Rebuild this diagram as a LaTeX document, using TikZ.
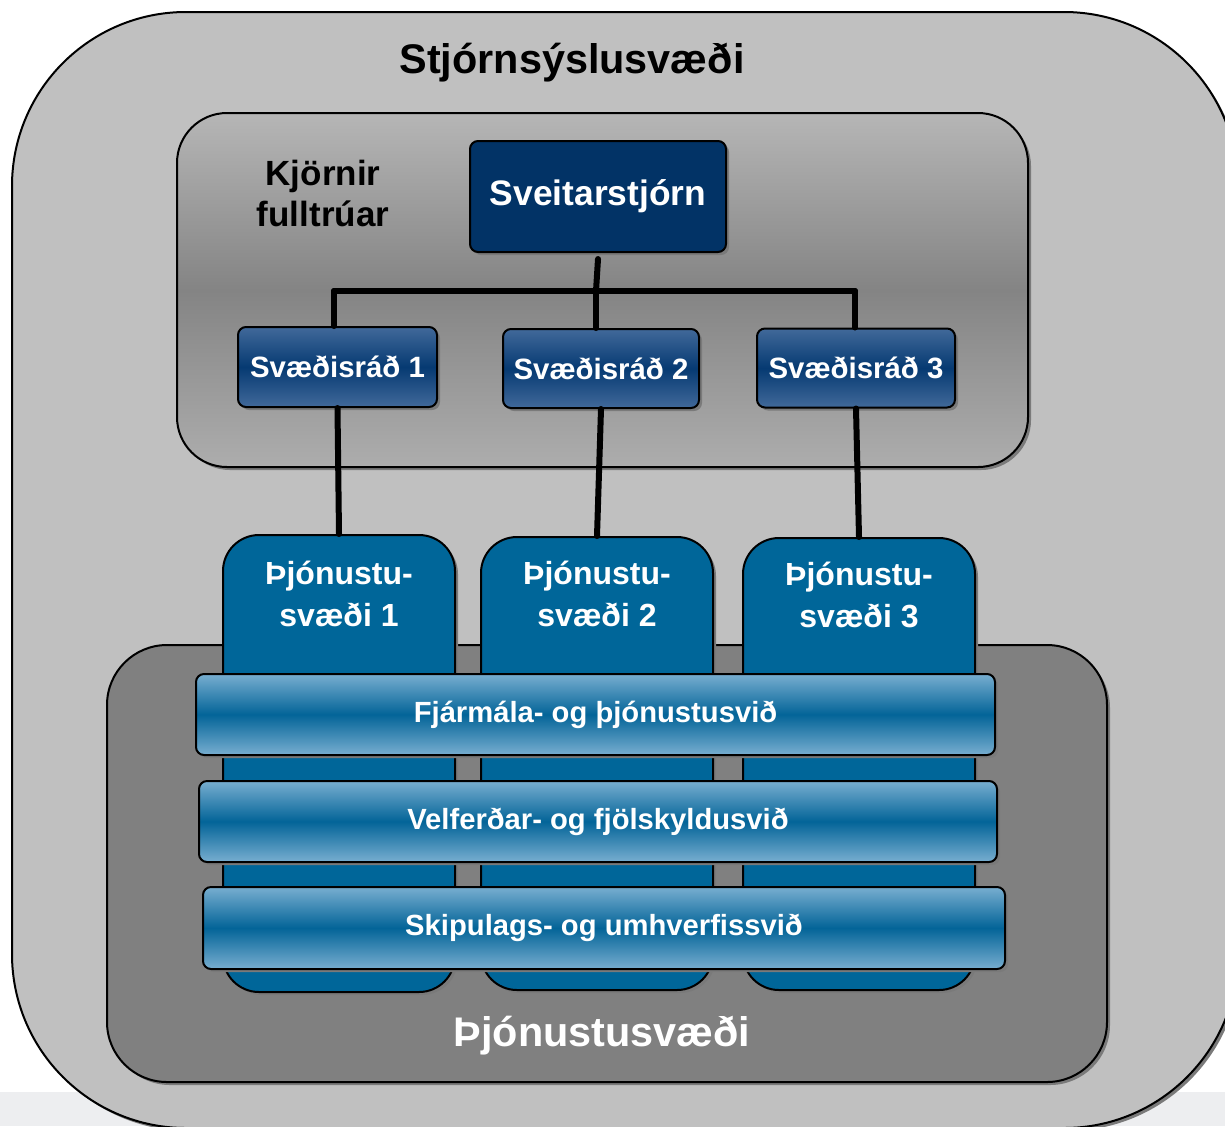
\documentclass[tikz,border=0pt]{standalone}
\usepackage{fontspec}
\setmainfont{Liberation Sans}
\usetikzlibrary{shadows}
\definecolor{outerg}{HTML}{C0C0C0}
\definecolor{bandg}{HTML}{EDEEF0}
\definecolor{shadowg}{HTML}{7A7A7A}
\definecolor{lowg}{HTML}{808080}
\definecolor{upTop}{HTML}{B6B6B6}
\definecolor{upMid}{HTML}{848484}
\definecolor{upBot}{HTML}{ADADAD}
\definecolor{navy}{HTML}{023366}
\definecolor{srEdge}{HTML}{41699A}
\definecolor{srMid}{HTML}{063A72}
\definecolor{colblue}{HTML}{006699}
\definecolor{barEdge}{HTML}{78AED0}
\definecolor{barMid}{HTML}{036498}
\begin{document}
\begin{tikzpicture}[x=0.5pt,y=-0.5pt,
  shad/.style={drop shadow={shadow xshift=1.5pt,shadow yshift=-1.5pt,fill=shadowg,opacity=1}},
  area/.style={draw=black,line width=1pt,shad},
  conn/.style={line width=3pt,line cap=round},
  topbox/.style={area,rounded corners=4pt,fill=navy,text=white,inner sep=0pt,
    font=\fontsize{17.7}{20}\selectfont\bfseries},
  srbox/.style={area,rounded corners=4pt,top color=srEdge,bottom color=srEdge,middle color=srMid,
    text=white,inner sep=0pt,font=\fontsize{14.7}{17}\selectfont\bfseries},
  colbox/.style={area,rounded corners=18pt,fill=colblue,inner sep=0pt,
    minimum width=116pt},
  coltext/.style={text=white,align=center,font=\fontsize{16}{21}\selectfont\bfseries},
  barbox/.style={area,rounded corners=4pt,top color=barEdge,bottom color=barEdge,middle color=barMid,
    text=white,inner sep=0pt,font=\fontsize{14.6}{17}\selectfont\bfseries},
  title/.style={font=\fontsize{20.7}{24}\selectfont\bfseries}
]
\useasboundingbox (0,0) rectangle (1225,1126);
\fill[bandg] (0,1092) rectangle (1225,1126);

% outer area
\draw[area,fill=outerg,rounded corners=87pt] (12,12) rectangle (1238,1128);
\node[title,text=black] (t0) at (572,63) {Stjórnsýslusvæði};

% upper area (elected representatives)
\draw[area,rounded corners=25pt,top color=upTop,bottom color=upBot,middle color=upMid]
  (177,113) rectangle (1028,467);
\node[align=center,font=\fontsize{17.5}{20.5}\selectfont\bfseries] (kf) at (323,193) {Kjörnir\\fulltrúar};

% lower area
\draw[area,rounded corners=30pt,fill=lowg] (107,645) rectangle (1107,1082);
\node[title,text=white] (tl) at (602,1036) {Þjónustusvæði};

% top nodes
\node[topbox,minimum width=128pt,minimum height=55.5pt] (sv) at (598,196.5) {Sveitarstjórn};
\node[srbox,minimum width=99.5pt,minimum height=40pt] (s1) at (337.5,367) {Svæðisráð 1};
\node[srbox,minimum width=98pt,minimum height=39.5pt] (s2) at (601,368.5) {Svæðisráð 2};
\node[srbox,minimum width=99pt,minimum height=39.5pt] (s3) at (856,368) {Svæðisráð 3};

\coordinate (j0) at (596,291);
\coordinate (j1) at (334,291);
\coordinate (j3) at (855,291);
\draw[conn] ([yshift=-3pt]sv.south) -- (j0);
\draw[conn] (j1) -- (j3);
\draw[conn] (j1) -- (j1 |- s1.north);
\draw[conn] (j0) -- (j0 |- s2.north);
\draw[conn] (j3) -- (j3 |- s3.north);

% columns
\node[colbox,minimum height=228.5pt] (p1) at (339,763.5) {};
\node[colbox,minimum height=226.5pt] (p2) at (597,763.5) {};
\node[colbox,minimum height=226pt] (p3) at (859,764) {};
\node[coltext] (pt1) at (339,594) {Þjónustu-\\svæði 1};
\node[coltext] (pt2) at (597,594) {Þjónustu-\\svæði 2};
\node[coltext] (pt3) at (859,595) {Þjónustu-\\svæði 3};

\draw[conn] (s1.south) -- (p1.north);
\draw[conn] (s2.south) -- (p2.north);
\draw[conn] (s3.south) -- (p3.north);

% bars
\node[barbox,minimum width=399.5pt,minimum height=40.5pt] (b1) at (595.5,714.5) {Fjármála- og þjónustusvið};
\node[barbox,minimum width=399pt,minimum height=40.5pt] (b2) at (598,821.5) {Velferðar- og fjölskyldusvið};
\node[barbox,minimum width=401pt,minimum height=41pt] (b3) at (604,928) {Skipulags- og umhverfissvið};
\end{tikzpicture}
\end{document}
